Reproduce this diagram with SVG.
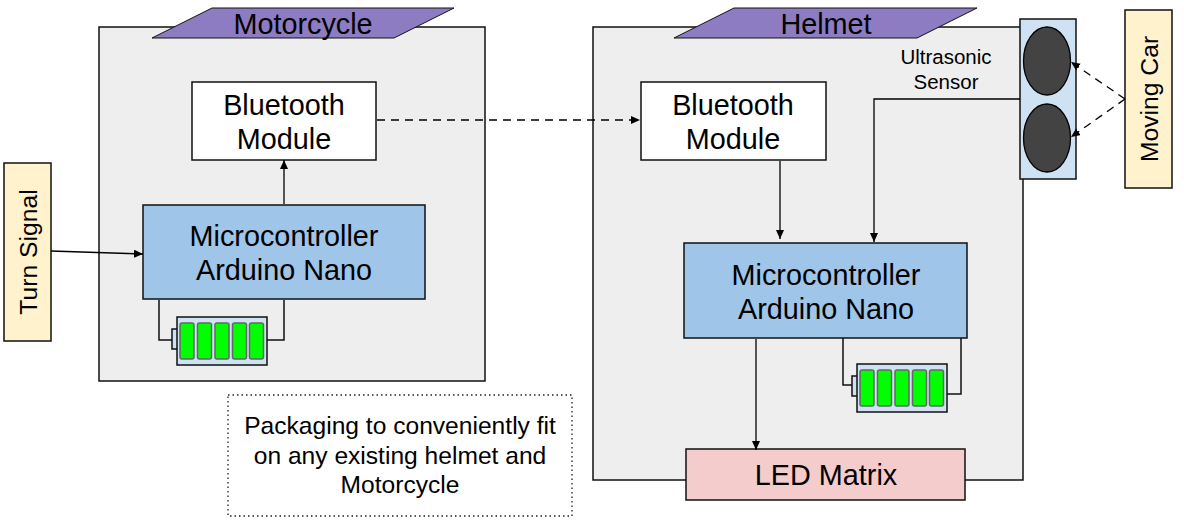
<svg xmlns="http://www.w3.org/2000/svg" width="1184" height="521" viewBox="0 0 1184 521">
<style>
text{font-family:"Liberation Sans",Arial,sans-serif;fill:#000;text-anchor:middle}
.t{font-size:28.800px}
.r{font-size:24.700px}
.n{font-size:24.600px}
.s{font-size:20.500px}
.box{stroke:#111;stroke-width:1.5}
.pkg{fill:#eee;stroke:#111;stroke-width:1.5}
.para{fill:#8e7cc3;stroke:#111;stroke-width:1}
.white{fill:#fff}
.blue{fill:#9fc5e8}
.cream{fill:#fff2cc}
.pink{fill:#f4cccc}
.lb{fill:#cfe2f3}
.cell{fill:#0f0;stroke:#666;stroke-width:1.5}
.w{fill:none;stroke:#111;stroke-width:1.5}
.a{fill:none;stroke:#000;stroke-width:1.3;marker-end:url(#ah)}
.d{stroke-dasharray:8 6}
.eye{fill:#434343;stroke:#000;stroke-width:1.3}
</style>
<defs>
<marker id="ah" markerUnits="userSpaceOnUse" markerWidth="10" markerHeight="10" refX="9" refY="4" orient="auto"><path d="M0 0L9 4L0 8Z" fill="#000"/></marker>
<g id="batt"><rect class="box lb" x="-5" y="12" width="6" height="20"/><rect class="box lb" x="0" y="0" width="90" height="48"/><rect class="cell" x="3" y="6" width="14" height="36" rx="2"/><rect class="cell" x="20.500" y="6" width="14" height="36" rx="2"/><rect class="cell" x="38" y="6" width="14" height="36" rx="2"/><rect class="cell" x="55.500" y="6" width="14" height="36" rx="2"/><rect class="cell" x="72.500" y="6" width="14" height="36" rx="2"/></g>
</defs>
<g id="motorcycle-package"><rect class="pkg" x="99" y="27" width="386" height="354"/><path class="para" d="M152 38L212 8H454L394 38Z"/><text class="t" x="303" y="34">Motorcycle</text></g>
<g id="helmet-package"><rect class="pkg" x="593" y="27" width="430" height="453"/><path class="para" d="M674 38L734 8H977L917 38Z"/><text class="t" x="826" y="34">Helmet</text></g>
<g id="bt1"><rect class="box white" x="192" y="82" width="184" height="78"/><text class="t" x="284" y="115">Bluetooth</text><text class="t" x="284" y="149">Module</text></g>
<g id="mc1"><rect class="box blue" x="143" y="205" width="282" height="94"/><text class="t" x="284" y="246">Microcontroller</text><text class="t" x="284" y="280">Arduino Nano</text></g>
<g id="batt1"><use href="#batt" x="177" y="317"/></g>
<g id="turn"><rect class="box cream" x="4" y="163" width="47" height="178"/><text class="r" transform="translate(37 252) rotate(-90)">Turn Signal</text></g>
<g id="bt2"><rect class="box white" x="641" y="82" width="185" height="78"/><text class="t" x="733" y="115">Bluetooth</text><text class="t" x="733" y="149">Module</text></g>
<g id="mc2"><rect class="box blue" x="684" y="243" width="283" height="95"/><text class="t" x="826" y="285">Microcontroller</text><text class="t" x="826" y="319">Arduino Nano</text></g>
<g id="batt2"><use href="#batt" x="857" y="364"/></g>
<g id="led"><rect class="box pink" x="686" y="449" width="279" height="51"/><text class="t" x="826" y="485">LED Matrix</text></g>
<g id="sensor-label"><text class="s" x="946" y="64">Ultrasonic</text><text class="s" x="946" y="89">Sensor</text></g>
<g id="sensor"><rect class="box lb" x="1020" y="19" width="56" height="160"/><ellipse class="eye" cx="1047" cy="61" rx="23.500" ry="34"/><ellipse class="eye" cx="1047" cy="138" rx="23.500" ry="34"/></g>
<g id="car"><rect class="box cream" x="1125" y="10" width="47" height="178"/><text class="r" transform="translate(1158 99) rotate(-90)">Moving Car</text></g>
<g id="note"><rect x="228" y="395" width="344" height="121" fill="#fff" stroke="#222" stroke-width="1.300" stroke-dasharray="1.500 3"/><text class="n" x="400" y="434">Packaging to conveniently fit</text><text class="n" x="400" y="464">on any existing helmet and</text><text class="n" x="400" y="493">Motorcycle</text></g>
<g id="connectors">
<path class="a d" d="M377 120H640"/>
<path class="a" d="M284 204V160"/>
<path class="a" d="M51 251L143 254"/>
<path class="w" d="M159 300V340H172M284 300V340H267"/>
<path class="a" d="M780 161L780 239"/>
<path class="a" d="M1020 99H874V242"/>
<path class="a" d="M756 339V450"/>
<path class="w" d="M843 338V385H852M961 338V394H947"/>
<path class="a d" d="M1125 99L1071 62"/>
<path class="a d" d="M1125 99L1071 137"/>
</g>
</svg>
